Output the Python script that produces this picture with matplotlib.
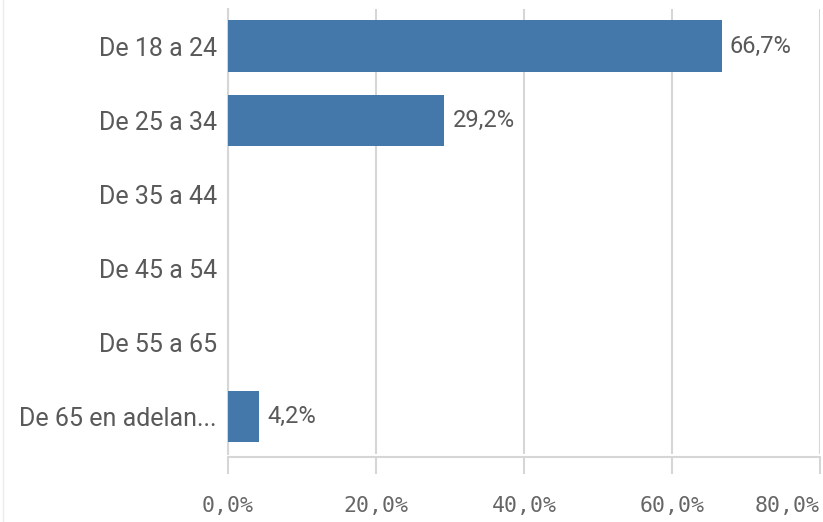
import matplotlib.pyplot as plt
from matplotlib.lines import Line2D

categories = ['De 18 a 24', 'De 25 a 34', 'De 35 a 44', 'De 45 a 54', 'De 55 a 65', 'De 65 en adelan...']
values = [66.7, 29.2, 0, 0, 0, 4.2]
value_labels = ['66,7%', '29,2%', '', '', '', '4,2%']
xticks = [0, 20, 40, 60, 80]
xtick_labels = ['0,0%', '20,0%', '40,0%', '60,0%', '80,0%']

bar_color = '#4477aa'
grid_color = '#d6d6d6'
text_color = '#595959'

fig = plt.figure(figsize=(8.23, 5.22), dpi=100)
ax = fig.add_axes([0.277, 0.1303, 0.7194, 0.8525])

# spine position first, it resets the tick settings
for s in ['top', 'right']:
    ax.spines[s].set_visible(False)
ax.spines['left'].set_color(grid_color)
ax.spines['left'].set_linewidth(1.5)
ax.spines['bottom'].set_color(grid_color)
ax.spines['bottom'].set_linewidth(1.5)
ax.spines['bottom'].set_position(('outward', 2))

y = list(range(len(categories)))
ax.barh(y, values, height=0.69, color=bar_color, zorder=3)

for yi, v, lab in zip(y, values, value_labels):
    if lab:
        ax.annotate(lab, (v, yi), xytext=(6, 0), textcoords='offset points',
                    va='center', ha='left', fontsize=17, color=text_color, family='Roboto')

ax.set_xlim(0, 80)
ax.set_ylim(len(categories) - 0.5, -0.5)

ax.set_yticks(y)
ax.set_yticklabels(categories, fontsize=18, color=text_color, family='Roboto')
ax.tick_params(axis='y', length=0, pad=8)

ax.set_xticks(xticks)
ax.set_xticklabels(xtick_labels, fontsize=15.5, color='#666666', family='DejaVu Sans Mono')
ax.get_xticklabels()[-1].set_horizontalalignment('right')
ax.tick_params(axis='x', direction='out', length=12, width=1.5, color=grid_color, pad=16)

ax.grid(axis='x', color=grid_color, linewidth=1.5, zorder=0)

# faint border at the left edge
fig.add_artist(Line2D([0.004, 0.004], [0, 1], color='#ececec', linewidth=1, transform=fig.transFigure))

fig.savefig('out.png', dpi=100)
